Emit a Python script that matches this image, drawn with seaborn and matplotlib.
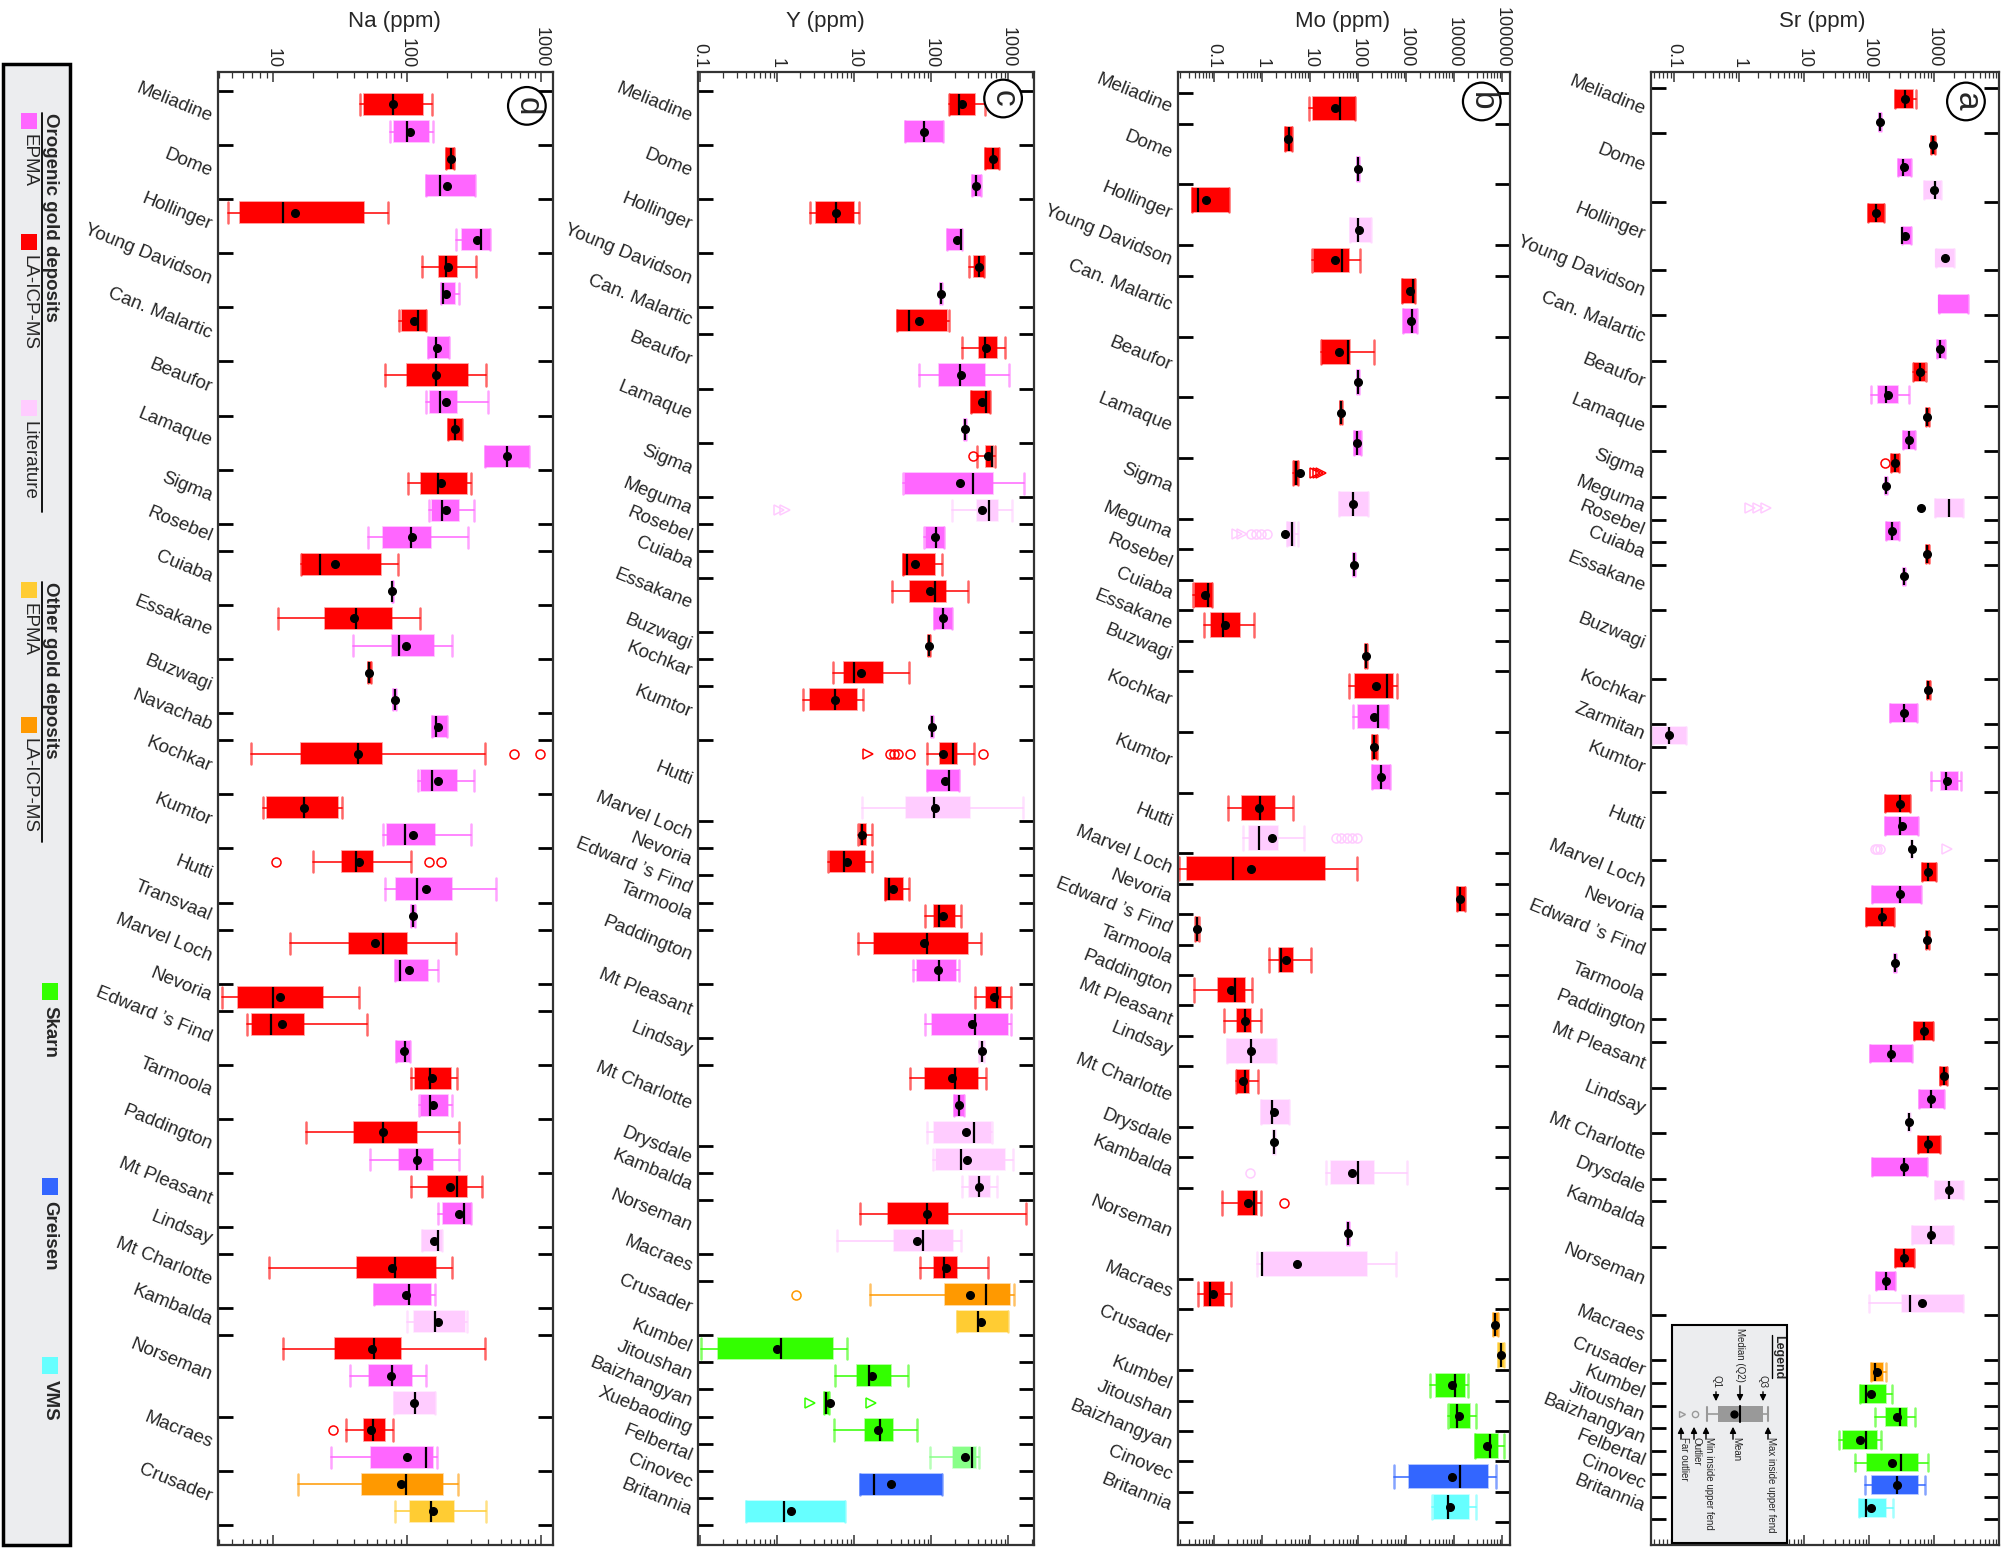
import matplotlib
matplotlib.use("Agg")
import matplotlib.pyplot as plt
import matplotlib.transforms as mtransforms
from matplotlib.patches import Rectangle
from matplotlib.colors import to_rgba
from matplotlib.ticker import FixedLocator, FixedFormatter, LogLocator, NullFormatter
import seaborn as sns

sns.set_theme(style="ticks")
plt.rcParams["font.family"] = ["Liberation Sans", "DejaVu Sans"]

# ---------------- colours per data source ----------------
COLORS = {
    "L": "#FF0000",   # orogenic LA-ICP-MS
    "E": "#FF66FF",   # orogenic EPMA
    "T": "#FFCCFF",   # literature
    "OE": "#FFCC33",  # other gold EPMA
    "OL": "#FF9900",  # other gold LA-ICP-MS
    "S": "#33FF00",   # skarn
    "S2": "#88FF88",  # skarn (light)
    "G": "#3366FF",   # greisen
    "V": "#66FFFF",   # VMS
}

EF = "Edward \u2019s Find"

# ---------------- data: (group, source, whislo, q1, median, q3, whishi, mean) ----------------
NA_ROWS = [
    ("Meliadine", "L", 45, 48, 79, 132, 154, 79),
    ("Meliadine", "E", 75, 80, 100, 145, 157, 105),
    ("Dome", "L", 195, 195, 213, 225, 225, 213),
    ("Dome", "E", 139, 139, 176, 321, 321, 198),
    ("Hollinger", "L", 4.6, 5.7, 11.9, 47.9, 72.6, 14.7),
    ("Hollinger", "E", 233, 256, 359, 416, 416, 331),
    ("Young Davidson", "L", 129, 174, 196, 238, 327, 203),
    ("Young Davidson", "E", 179, 179, 185, 229, 244, 195),
    ("Can. Malartic", "L", 87, 92, 122, 139, 139, 113),
    ("Can. Malartic", "E", 143, 143, 166, 206, 206, 169),
    ("Beaufor", "L", 69, 100, 166, 288, 386, 166),
    ("Beaufor", "E", 140, 149, 176, 235, 402, 195),
    ("Lamaque", "L", 204, 204, 228, 256, 256, 228),
    ("Lamaque", "E", 382, 382, 558, 811, 811, 558),
    ("Sigma", "L", 102, 128, 172, 279, 303, 179),
    ("Sigma", "E", 145, 155, 182, 243, 315, 195),
    ("Rosebel", "E", 51, 66, 108, 151, 286, 109),
    ("Cuiaba", "L", 16.3, 16.6, 22.4, 64, 86, 29),
    ("Cuiaba", "E", 77, 77, 78, 79, 79, 78),
    ("Essakane", "L", 10.9, 24.3, 42, 76.8, 125, 40.5),
    ("Essakane", "E", 39.8, 78, 87, 160, 217, 97.7),
    ("Buzwagi", "L", 51, 51, 52.5, 54, 54, 52.5),
    ("Buzwagi", "E", 79, 79, 81, 83, 83, 81),
    ("Navachab", "E", 155, 155, 166, 198, 198, 171),
    ("Kochkar", "L", 6.9, 16.2, 43.5, 65.5, 380, 43),
    ("Kochkar", "E", 122, 128, 153, 235, 315, 172),
    ("Kumtor", "L", 8.4, 9.1, 17.2, 30.8, 33, 17),
    ("Kumtor", "E", 66.5, 70.8, 97, 162, 301, 111),
    ("Hutti", "L", 19.8, 32.8, 42, 55.8, 108, 43.7),
    ("Hutti", "E", 68.9, 82.5, 118, 218, 460, 139),
    ("Transvaal", "E", 108, 108, 111, 114, 114, 111),
    ("Marvel Loch", "L", 13.5, 37, 66.5, 99.5, 234, 58),
    ("Marvel Loch", "E", 81, 81, 88.7, 143, 172, 103.5),
    ("Nevoria", "L", 4.2, 5.5, 9.95, 23.8, 44.3, 11.3),
    (EF, "L", 6.4, 7.05, 9.7, 17, 50.7, 11.7),
    (EF, "E", 82.5, 82.5, 97, 106, 106, 94.5),
    ("Tarmoola", "L", 108, 115, 149, 212, 238, 155),
    ("Tarmoola", "E", 124, 128, 150, 204, 218, 157),
    ("Paddington", "L", 17.8, 40.5, 66.5, 118.5, 246, 66.5),
    ("Paddington", "E", 53.3, 86.9, 118, 156, 246, 119),
    ("Mt Pleasant", "L", 108, 144.5, 238, 279, 363, 211),
    ("Mt Pleasant", "E", 172, 187.5, 268, 303, 303, 243),
    ("Lindsay", "T", 130, 130, 169.5, 182, 182, 160),
    ("Mt Charlotte", "L", 9.35, 42.6, 81.6, 165.5, 217, 77),
    ("Mt Charlotte", "E", 57, 57, 104, 151, 161, 97.7),
    ("Kambalda", "T", 100, 113, 161, 271, 282, 171),
    ("Norseman", "L", 11.9, 29, 56.8, 89.7, 380, 55.2),
    ("Norseman", "E", 37.8, 52, 78, 110, 140, 75.8),
    ("Norseman", "T", 79.8, 79.8, 114.5, 162, 162, 113),
    ("Macraes", "L", 35.3, 47.9, 56, 68.9, 78.8, 54.3),
    ("Macraes", "E", 27.2, 54, 138, 156, 167, 100),
    ("Crusader", "OL", 15.5, 46.4, 98.9, 186, 239, 90),
    ("Crusader", "OE", 81.6, 105, 152, 226, 386, 157),
]
NA_OUTLIERS = [
    ("Kochkar", "L", 625, "o"), ("Kochkar", "L", 984, "o"),
    ("Hutti", "L", 10.5, "o"), ("Hutti", "L", 147, "o"), ("Hutti", "L", 180, "o"),
    ("Macraes", "L", 28.2, "o"),
]
NA_XLIM = (3.9, 1230)
NA_TICKS = [10, 100, 1000]
NA_TICKLABELS = ["10", "100", "1000"]

Y_ROWS = [
    ("Meliadine", "L", 168, 176, 226, 365, 493, 250),
    ("Meliadine", "E", 46, 46, 81, 142, 142, 80),
    ("Dome", "L", 502, 502, 626, 764, 764, 626),
    ("Dome", "E", 334, 334, 380, 437, 437, 380),
    ("Hollinger", "L", 2.68, 3.2, 5.8, 9.9, 11.7, 5.8),
    ("Hollinger", "E", 161, 161, 246, 253, 253, 215),
    ("Young Davidson", "L", 305, 358, 416, 479, 479, 416),
    ("Young Davidson", "E", 130, 130, 134, 138, 138, 134),
    ("Can. Malartic", "L", 36, 36, 50.8, 160, 168, 69),
    ("Beaufor", "L", 248, 420, 502, 713, 896, 517),
    ("Beaufor", "E", 69, 126, 238, 493, 1010, 246),
    ("Lamaque", "L", 326, 326, 509, 585, 585, 457),
    ("Lamaque", "E", 262, 262, 270, 278, 278, 270),
    ("Sigma", "L", 397, 514, 608, 627, 673, 551),
    ("Sigma", "E", 42.6, 45.2, 352, 634, 1610, 237),
    ("Meguma", "T", 185, 397, 568, 728, 1114, 457),
    ("Rosebel", "E", 79.6, 86.5, 115, 147, 147, 113),
    ("Cuiaba", "L", 42.6, 42.6, 48.3, 111, 136, 61.5),
    ("Essakane", "L", 30.7, 52.5, 111, 156, 300, 97),
    ("Essakane", "E", 110, 110, 142, 183, 183, 142),
    ("Buzwagi", "L", 90, 90, 93, 96, 96, 93),
    ("Kochkar", "L", 5.35, 7.3, 9.9, 23.5, 52, 12.4),
    ("Kumtor", "L", 2.19, 2.65, 5.57, 10.9, 13, 5.57),
    ("Kumtor", "E", 99, 99, 102, 105, 105, 102),
    ("Hutti", "L", 88.7, 131, 189, 217, 360, 143),
    ("Hutti", "E", 88, 88, 169, 232, 232, 152),
    ("Hutti", "T", 12.7, 46.5, 107, 316, 1563, 113),
    ("Marvel Loch", "L", 11.3, 12, 12.8, 14.2, 16.9, 12.8),
    ("Nevoria", "L", 4.56, 4.9, 7.35, 13.6, 16.9, 7.96),
    (EF, "L", 25.4, 25.4, 28, 43, 52, 31.9),
    ("Tarmoola", "L", 83.6, 110, 124, 206, 242, 140),
    ("Paddington", "L", 11.3, 18.2, 87, 300, 448, 80.4),
    ("Paddington", "E", 58, 65.3, 124, 210, 230, 122),
    ("Mt Pleasant", "L", 374, 514, 706, 811, 1094, 653),
    ("Mt Pleasant", "E", 83.6, 103, 370, 1000, 1083, 336),
    ("Lindsay", "T", 422, 422, 457, 484, 484, 457),
    ("Mt Charlotte", "L", 53.5, 83.6, 204, 401, 509, 183),
    ("Mt Charlotte", "E", 195, 195, 226, 262, 262, 226),
    ("Mt Charlotte", "T", 88, 110, 363, 597, 621, 278),
    ("Drysdale", "T", 105, 114, 244, 914, 1161, 287),
    ("Kambalda", "T", 249, 310, 413, 579, 721, 413),
    ("Norseman", "L", 12, 27.2, 88, 166, 1675, 88),
    ("Norseman", "T", 5.97, 32.6, 77.3, 192, 242, 65),
    ("Macraes", "L", 72, 107, 146, 217, 541, 156),
    ("Crusader", "OL", 15.8, 149, 509, 1061, 1197, 319),
    ("Crusader", "OE", 215, 215, 401, 990, 990, 438),
    ("Kumbel", "S", 0.102, 0.173, 1.11, 5.3, 7.96, 1.01),
    ("Jitoushan", "S", 5.57, 10.8, 15.5, 30, 50.5, 17.1),
    ("Baizhangyan", "S", 4.06, 4.06, 4.34, 4.75, 4.75, 4.9),
    ("Xuebaoding", "S", 5.4, 13.7, 21.5, 31.9, 65.9, 20.2),
    ("Felbertal", "S2", 95, 189, 336, 378, 413, 270),
    ("Cinovec", "G", 12, 12, 17.8, 136, 136, 30),
    ("Britannia", "V", 0.4, 0.4, 1.22, 7.65, 7.65, 1.53),
]
Y_OUTLIERS = [
    ("Sigma", "L", 352, "o"),
    ("Meguma", "T", 1.05, ">"), ("Meguma", "T", 1.25, ">"),
    ("Hutti", "L", 15.2, ">"), ("Hutti", "L", 29.5, "o"), ("Hutti", "L", 33, "o"),
    ("Hutti", "L", 37, "o"), ("Hutti", "L", 53.5, "o"), ("Hutti", "L", 466, "o"),
    ("Crusader", "OL", 1.78, "o"),
    ("Baizhangyan", "S", 2.67, ">"), ("Baizhangyan", "S", 16.4, ">"),
]
Y_XLIM = (0.094, 2150)
Y_TICKS = [0.1, 1, 10, 100, 1000]
Y_TICKLABELS = ["0.1", "1", "10", "100", "1000"]

MO_ROWS = [
    ("Meliadine", "L", 9.5, 11.5, 41.8, 89.5, 89.5, 33.4),
    ("Dome", "L", 3.0, 3.0, 3.68, 4.18, 4.18, 3.5),
    ("Dome", "E", 95, 95, 100, 105, 105, 100),
    ("Hollinger", "L", 0.0356, 0.0356, 0.0467, 0.211, 0.211, 0.0705),
    ("Hollinger", "T", 69, 69, 100, 192, 192, 108),
    ("Young Davidson", "L", 11, 12.1, 47.4, 65, 113, 34),
    ("Can. Malartic", "L", 853, 853, 1418, 1560, 1560, 1210),
    ("Can. Malartic", "E", 895, 895, 1350, 1714, 1714, 1288),
    ("Beaufor", "L", 16.9, 18.3, 62.1, 67.3, 214, 39.8),
    ("Beaufor", "E", 95, 95, 100, 105, 105, 100),
    ("Lamaque", "L", 42, 42, 44.3, 47, 47, 44.3),
    ("Lamaque", "E", 82.6, 82.6, 95, 117, 117, 95),
    ("Sigma", "L", 4.43, 4.7, 5.2, 5.8, 5.8, 6.3),
    ("Sigma", "T", 41.5, 41.5, 81, 164, 164, 81),
    ("Meguma", "T", 3.3, 3.3, 4.3, 5.0, 5.8, 3.06),
    ("Rosebel", "E", 80, 80, 84, 88, 88, 84),
    ("Cuiaba", "L", 0.0365, 0.0408, 0.076, 0.0938, 0.0938, 0.066),
    ("Essakane", "L", 0.063, 0.089, 0.156, 0.36, 0.70, 0.175),
    ("Buzwagi", "L", 140, 140, 147, 154, 154, 147),
    ("Kochkar", "L", 65, 86.6, 402, 553, 650, 241),
    ("Kochkar", "E", 78.8, 100, 269, 428, 428, 219),
    ("Kumtor", "L", 193, 193, 219, 249, 249, 219),
    ("Kumtor", "E", 196, 196, 306, 472, 472, 306),
    ("Hutti", "L", 0.196, 0.396, 0.908, 1.9, 4.5, 0.88),
    ("Hutti", "T", 0.4, 0.553, 0.866, 2.22, 7.4, 1.67),
    ("Marvel Loch", "L", 0.019, 0.0283, 0.249, 20.8, 98, 0.6),
    ("Nevoria", "L", 11560, 11560, 13770, 17200, 17200, 13770),
    (EF, "L", 0.040, 0.042, 0.044, 0.047, 0.050, 0.044),
    ("Tarmoola", "L", 1.42, 2.26, 2.49, 4.57, 10.5, 3.17),
    ("Paddington", "L", 0.039, 0.125, 0.278, 0.457, 0.62, 0.23),
    ("Mt Pleasant", "L", 0.167, 0.311, 0.45, 0.61, 0.97, 0.45),
    ("Lindsay", "T", 0.193, 0.193, 0.61, 2.02, 2.02, 0.61),
    ("Mt Charlotte", "L", 0.29, 0.31, 0.457, 0.536, 0.84, 0.41),
    ("Mt Charlotte", "T", 0.953, 0.953, 1.67, 3.77, 3.77, 1.81),
    ("Drysdale", "T", 1.75, 1.75, 1.84, 1.93, 1.93, 1.84),
    ("Kambalda", "T", 21.5, 28.2, 103, 215, 1084, 75),
    ("Norseman", "L", 0.147, 0.327, 0.68, 0.787, 0.97, 0.527),
    ("Norseman", "E", 59, 59, 62, 65, 65, 62),
    ("Norseman", "T", 0.79, 1.02, 1.02, 154, 630, 5.36),
    ("Macraes", "L", 0.046, 0.062, 0.085, 0.164, 0.226, 0.098),
    ("Crusader", "OL", 64000, 64000, 72600, 85200, 85200, 72600),
    ("Crusader", "OE", 82600, 82600, 95300, 112000, 112000, 95300),
    ("Kumbel", "S", 3160, 4350, 10500, 17500, 19600, 9090),
    ("Jitoushan", "S", 7500, 8530, 11560, 22200, 28700, 12900),
    ("Baizhangyan", "S", 27800, 27800, 55400, 83900, 110000, 50200),
    ("Cinovec", "G", 571, 1156, 13300, 51900, 76200, 9090),
    ("Britannia", "V", 3430, 3960, 7500, 20800, 28700, 8530),
]
MO_OUTLIERS = [
    ("Sigma", "L", 13, ">"), ("Sigma", "L", 15, ">"), ("Sigma", "L", 17, ">"),
    ("Meguma", "T", 0.3, ">"), ("Meguma", "T", 0.38, ">"), ("Meguma", "T", 0.6, "o"),
    ("Meguma", "T", 0.75, "o"), ("Meguma", "T", 0.95, "o"), ("Meguma", "T", 1.3, "o"),
    ("Hutti", "T", 35, "o"), ("Hutti", "T", 45, "o"), ("Hutti", "T", 60, "o"),
    ("Hutti", "T", 75, "o"), ("Hutti", "T", 95, "o"),
    ("Kambalda", "T", 0.58, "o"),
    ("Norseman", "L", 2.87, "o"),
]
MO_XLIM = (0.018, 148000)
MO_TICKS = [0.1, 1, 10, 100, 1000, 10000, 100000]
MO_TICKLABELS = ["0.1", "1", "10", "100", "1000", "10000", "100000"]

SR_ROWS = [
    ("Meliadine", "L", 247, 247, 351, 477, 530, 351),
    ("Meliadine", "E", 140, 140, 147, 154, 154, 147),
    ("Dome", "L", 899, 899, 955, 1047, 1047, 955),
    ("Dome", "E", 278, 278, 327, 445, 445, 343),
    ("Dome", "T", 695, 695, 1023, 1294, 1294, 995),
    ("Hollinger", "L", 97, 97, 129, 170, 170, 129),
    ("Hollinger", "E", 316, 316, 324, 445, 445, 351),
    ("Hollinger", "T", 1086, 1086, None, 2000, 2000, 1490),
    ("Young Davidson", None, None, None, None, None, None, None),
    ("Young Davidson", "E", 1178, 1178, None, 3270, 3270, None),
    ("Can. Malartic", None, None, None, None, None, None, None),
    ("Can. Malartic", "E", 1110, 1110, 1230, 1490, 1490, 1230),
    ("Beaufor", "L", 470, 489, 597, 736, 760, 597),
    ("Beaufor", "E", 106, 137, 180, 278, 409, 195),
    ("Lamaque", "L", 740, 740, 776, 820, 820, 776),
    ("Lamaque", "E", 329, 329, 413, 516, 516, 413),
    ("Sigma", "L", 219, 219, 250, 288, 288, 250),
    ("Sigma", "E", 175, 175, 183, 190, 190, 183),
    ("Meguma", "T", 1019, 1019, 1700, 2749, 2749, 619),
    ("Rosebel", "E", 183, 183, 229, 288, 288, 229),
    ("Cuiaba", "L", 740, 740, 776, 820, 820, 776),
    ("Essakane", "E", 330, 330, 345, 360, 360, 345),
    ("Essakane", None, None, None, None, None, None, None),
    ("Buzwagi", None, None, None, None, None, None, None),
    ("Buzwagi", None, None, None, None, None, None, None),
    ("Buzwagi", None, None, None, None, None, None, None),
    ("Kochkar", "L", 780, 780, 813, 850, 850, 813),
    ("Kochkar", "E", 210, 210, 350, 541, 541, 350),
    ("Zarmitan", "T", 0.049, 0.049, 0.085, 0.153, 0.153, 0.085),
    ("Kumtor", None, None, None, None, None, None, None),
    ("Kumtor", "E", 900, 1276, 1500, 2296, 2600, 1600),
    ("Hutti", "L", 175, 175, 300, 431, 431, 300),
    ("Hutti", "E", 175, 175, 300, 566, 566, 320),
    ("Hutti", "T", 445, 445, 452, 460, 460, 452),
    ("Marvel Loch", "L", 648, 648, 800, 1065, 1065, 800),
    ("Marvel Loch", "E", 111, 111, 300, 619, 619, 300),
    ("Nevoria", "L", 89, 89, 160, 240, 240, 160),
    (EF, "L", 740, 740, 776, 820, 820, 776),
    (EF, "E", 240, 240, 251, 262, 262, 251),
    ("Tarmoola", None, None, None, None, None, None, None),
    ("Tarmoola", None, None, None, None, None, None, None),
    ("Paddington", "L", 494, 494, 700, 973, 973, 700),
    ("Mt Pleasant", "E", 102, 102, 220, 452, 452, 220),
    ("Mt Pleasant", "L", 1219, 1219, 1400, 1600, 1600, 1400),
    ("Lindsay", "E", 593, 593, 900, 1396, 1396, 900),
    ("Lindsay", "T", 400, 400, 413, 425, 425, 413),
    ("Mt Charlotte", "L", 566, 566, 800, 1219, 1219, 800),
    ("Mt Charlotte", "E", 111, 111, 350, 776, 776, 350),
    ("Drysdale", "T", 1019, 1019, 1700, 2749, 2749, 1700),
    ("Kambalda", None, None, None, None, None, None, None),
    ("Kambalda", "T", 452, 452, 900, 1915, 1915, 900),
    ("Norseman", "L", 251, 251, 350, 494, 494, 350),
    ("Norseman", "E", 128, 128, 180, 251, 251, 180),
    ("Norseman", "T", 100, 316, 425, 2786, 2786, 641),
    ("Macraes", None, None, None, None, None, None, None),
    ("Macraes", None, None, None, None, None, None, None),
    ("Crusader", "OL", 107, 109, 124, 164, 184, 134),
    ("Kumbel", "S", 73, 73, 91, 185, 223, 106),
    ("Jitoushan", "S", 124, 182, 302, 387, 501, 266),
    ("Baizhangyan", "S", 35, 40, 91, 134, 155, 74),
    ("Felbertal", "S", 60, 93, 309, 563, 802, 228),
    ("Cinovec", "G", 86, 113, 272, 570, 721, 266),
    ("Britannia", "V", 70, 70, 91, 185, 233, 106),
]
SR_OUTLIERS = [
    ("Sigma", "L", 175, "o"),
    ("Meguma", "T", 1.5, ">"), ("Meguma", "T", 2.0, ">"), ("Meguma", "T", 2.6, ">"),
    ("Hutti", "T", 122, "o"), ("Hutti", "T", 135, "o"), ("Hutti", "T", 150, "o"),
    ("Hutti", "T", 1600, ">"),
]
SR_XLIM = (0.045, 9900)
SR_TICKS = [0.1, 1, 10, 100, 1000]
SR_TICKLABELS = ["0.1", "1", "10", "100", "1000"]

# ---------------- figure ----------------
W, H = 2007, 1551
fig = plt.figure(figsize=(W / 100, H / 100), dpi=100)
AX_TOP, AX_BOT = 72, 1545


def frame(x0, x1):
    return [x0 / W, 1 - AX_BOT / H, (x1 - x0) / W, (AX_BOT - AX_TOP) / H]


def draw_panel(ax, rows, outliers, xlim, ticks, ticklabels, top_pad, bot_pad):
    n = len(rows)
    starts = [i for i, r in enumerate(rows) if i == 0 or r[0] != rows[i - 1][0]]
    bounds = [s - 0.5 for s in starts] + [n - 0.5]
    for i, r in enumerate(rows):
        g, t, lo, q1, med, q3, hi, mean = r
        if t is None:
            continue
        c = COLORS[t]
        st = dict(whislo=lo, q1=q1, med=med if med is not None else q1, q3=q3,
                  whishi=hi, mean=mean if mean is not None else q1, fliers=[])
        ax.bxp([st], positions=[i], widths=0.78, capwidths=0.78,
               orientation="horizontal", patch_artist=True,
               showmeans=mean is not None, showfliers=False, manage_ticks=False,
               boxprops=dict(facecolor=c, edgecolor=to_rgba(c, 0.45), linewidth=1.2),
               whiskerprops=dict(color=to_rgba(c, 0.85), linewidth=1.3),
               capprops=dict(color=to_rgba(c, 0.6), linewidth=1.8),
               medianprops=dict(color="black" if med is not None else c, linewidth=1.6),
               meanprops=dict(marker="o", markerfacecolor="black",
                              markeredgecolor="black", markersize=5.5))
    idx = {(r[0], r[1]): i for i, r in enumerate(rows)}
    for g, t, v, m in outliers:
        ax.plot([v], [idx[(g, t)]], marker=m, ms=6.5, mfc="none",
                mec=COLORS[t], mew=1.1, ls="none")
    trans = mtransforms.blended_transform_factory(ax.transAxes, ax.transData)
    ends = starts[1:] + [n]
    for s, e in zip(starts, ends):
        ax.text(-0.02, (s + e - 1) / 2, rows[s][0], transform=trans, rotation=-22,
                ha="right", va="center", rotation_mode="anchor", fontsize=13.5)
    ax.set_xscale("log")
    ax.set_xlim(*xlim)
    ax.set_ylim(n - 0.5 + bot_pad, -top_pad)
    ax.set_yticks(bounds)
    ax.set_yticklabels([])
    ax.tick_params(axis="y", which="major", direction="in", length=11, width=2,
                   left=True, right=True, labelleft=False, color="black")
    ax.xaxis.set_major_locator(FixedLocator(ticks))
    ax.xaxis.set_major_formatter(FixedFormatter(ticklabels))
    ax.xaxis.set_minor_locator(LogLocator(base=10, subs=range(2, 10), numticks=60))
    ax.xaxis.set_minor_formatter(NullFormatter())
    ax.tick_params(axis="x", which="both", direction="in", top=True, bottom=True,
                   labeltop=True, labelbottom=False, color="#333333")
    ax.tick_params(axis="x", which="major", length=7, width=1.1, labelsize=13,
                   labelrotation=-90, pad=3)
    ax.tick_params(axis="x", which="minor", length=4, width=0.9)
    for sp in ax.spines.values():
        sp.set_visible(True)
        sp.set_linewidth(1.6)
        sp.set_color("#333333")
    ax.grid(False)


PANELS = [
    (NA_ROWS, NA_OUTLIERS, NA_XLIM, NA_TICKS, NA_TICKLABELS, (218, 553), "Na (ppm)", 394, "d", (0.922, 0.977), 0.75),
    (Y_ROWS, Y_OUTLIERS, Y_XLIM, Y_TICKS, Y_TICKLABELS, (698, 1034), "Y (ppm)", 825, "c", (0.908, 0.982), 0.75),
    (MO_ROWS, MO_OUTLIERS, MO_XLIM, MO_TICKS, MO_TICKLABELS, (1178, 1510), "Mo (ppm)", 1343, "b", (0.915, 0.980), 0.75),
    (SR_ROWS, SR_OUTLIERS, SR_XLIM, SR_TICKS, SR_TICKLABELS, (1651, 1999), "Sr (ppm)", 1822, "a", (0.905, 0.980), 1.13),
]

for rows, outl, xlim, ticks, tl, (x0, x1), title, tx, letter, lpos, bpad in PANELS:
    ax = fig.add_axes(frame(x0, x1))
    draw_panel(ax, rows, outl, xlim, ticks, tl, 1.2, bpad)
    fig.text(tx / W, 1 - 22 / H, title, ha="center", va="center", fontsize=16)
    ax.text(lpos[0], lpos[1], letter, transform=ax.transAxes, rotation=-90,
            ha="center", va="center", fontsize=24, zorder=20,
            bbox=dict(boxstyle="circle,pad=0.1", fc="white", ec="black", lw=1.6))

# ---------------- overlay for legends ----------------
ov = fig.add_axes([0, 0, 1, 1], zorder=30)
ov.set_xlim(0, W)
ov.set_ylim(H, 0)
ov.set_axis_off()
ov.patch.set_alpha(0)

# left legend panel
ov.add_patch(Rectangle((3, 64), 67, 1481, fc="#ECEDEF", ec="black", lw=2.5))


def vtext(x, y, s, size=13.5, bold=False, va="top"):
    ov.text(x, y, s, rotation=-90, ha="center", va=va, fontsize=size,
            fontweight="bold" if bold else "normal")


vtext(50, 113, "Orogenic gold deposits", bold=True)
ov.plot([41.5, 41.5], [113, 512], color="black", lw=1.3)
for (y0, src, lab) in [(113, "E", "EPMA"), (234, "L", "LA-ICP-MS"), (400, "T", "Literature")]:
    ov.add_patch(Rectangle((21, y0), 16, 16, fc=COLORS[src], ec="none"))
    vtext(29, y0 + 21, lab)
vtext(50, 582, "Other gold deposits", bold=True)
ov.plot([41.5, 41.5], [582, 842], color="black", lw=1.3)
for (y0, src, lab) in [(582, "OE", "EPMA"), (717, "OL", "LA-ICP-MS")]:
    ov.add_patch(Rectangle((21, y0), 16, 16, fc=COLORS[src], ec="none"))
    vtext(29, y0 + 21, lab)
for (y0, src, lab) in [(983, "S", "Skarn"), (1178, "G", "Greisen"), (1357, "V", "VMS")]:
    ov.add_patch(Rectangle((42, y0), 16, 17, fc=COLORS[src], ec="none"))
    vtext(50, y0 + 23, lab, bold=True)

# mini legend inside panel a
ov.add_patch(Rectangle((1672, 1325), 115, 218, fc="#ECEDEF", ec="black", lw=1.5))
vtext(1778, 1335, "Legend", size=9, bold=True)
ov.plot([1771.5, 1771.5], [1335, 1378], color="black", lw=1)
GRAY = "#999999"
ov.plot([1707, 1768], [1414, 1414], color=GRAY, lw=1.2)
ov.plot([1707, 1707], [1407, 1421], color=GRAY, lw=1.5)
ov.plot([1768, 1768], [1407, 1421], color=GRAY, lw=1.5)
ov.add_patch(Rectangle((1718, 1406), 45, 16, fc=GRAY, ec="none"))
ov.plot([1740, 1740], [1406, 1422], color="black", lw=1.5)
ov.plot([1734], [1414], marker="o", ms=5, color="black")
ov.plot([1695], [1414], marker="o", ms=4.5, mfc="none", mec=GRAY, mew=1)
ov.plot([1682], [1414], marker=">", ms=4.5, mfc="none", mec=GRAY, mew=1)
for x, lab, ybot in [(1716, "Q1", 1388), (1740, "Median (Q2)", 1382), (1763, "Q3", 1388)]:
    vtext(x, ybot, lab, size=7, va="bottom")
    ov.annotate("", xy=(x, 1404), xytext=(x, ybot + 1),
                arrowprops=dict(arrowstyle="-|>", color="black", lw=1, mutation_scale=9))
for x, lab in [(1768, "Max inside upper fend"), (1733, "Mean"),
               (1706, "Min inside upper fend"), (1694, "Outlier"), (1681, "Far outlier")]:
    ov.annotate("", xy=(x, 1424), xytext=(x, 1442),
                arrowprops=dict(arrowstyle="-|>", color="black", lw=1, mutation_scale=9))
    vtext(x + 3, 1437, lab, size=7)

fig.savefig("out.png", dpi=100)
